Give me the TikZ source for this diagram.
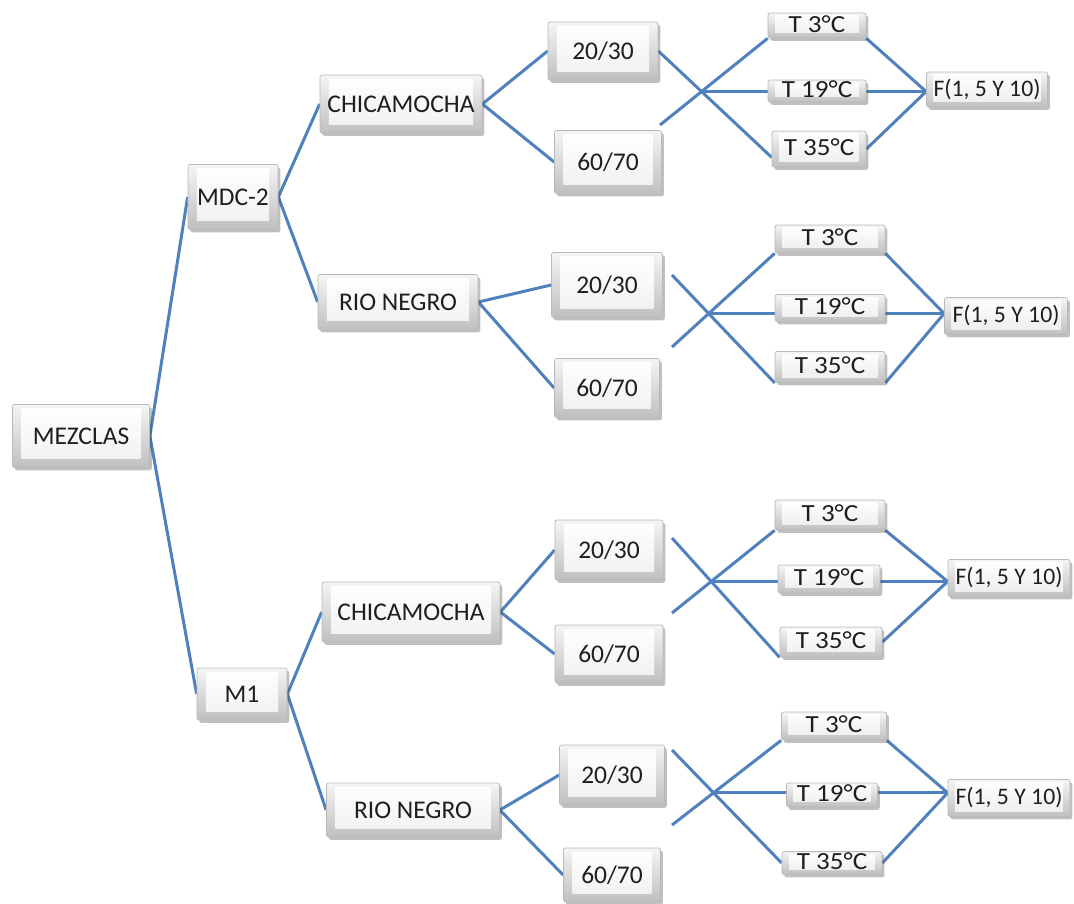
\documentclass[tikz,border=0pt]{standalone}
\usepackage{fontspec}
\setmainfont{Carlito}
\newfontfamily\tfont[FakeStretch=1.1]{Carlito}
\usetikzlibrary{shadows,intersections,backgrounds,calc}
\definecolor{lblue}{RGB}{79,129,189}
\definecolor{txt}{RGB}{30,30,30}
\tikzset{
 box/.style={draw=gray!55, line width=0.4pt, rounded corners=1.2pt,
   top color=gray!8, bottom color=gray!50, inner sep=0pt, text=txt,
   font=\fontsize{14.5}{16}\selectfont,
   drop shadow={shadow xshift=1.3pt, shadow yshift=-1.6pt, opacity=0.35, fill=black!70},
   path picture={\shade[top color=white, bottom color=gray!12, rounded corners=0pt]
     ([shift={(5pt,-2.5pt)}]path picture bounding box.north west) rectangle
     ([shift={(-5pt,5pt)}]path picture bounding box.south east);}},
 bx/.style 2 args={box, minimum width=#1*0.02cm, minimum height=#2*0.02cm},
 tb/.style 2 args={box, font=\tfont\fontsize{14}{14}\selectfont,
   minimum width=#1*0.02cm, minimum height=#2*0.02cm, text height=1.55ex, text depth=0pt,
   path picture={\shade[top color=white, bottom color=gray!15, rounded corners=0pt]
     ([shift={(4pt,-1.5pt)}]path picture bounding box.north west) rectangle
     ([shift={(-4pt,3pt)}]path picture bounding box.south east);}},
 fb/.style 2 args={tb={#1}{#2}, font=\fontsize{13.5}{14}\selectfont},
 ln/.style={draw=lblue, line width=1.7pt},
}
\begin{document}
\begin{tikzpicture}[x=0.02cm,y=-0.02cm]
\useasboundingbox (0,0) rectangle (1074,903);
% main tree
\node[bx={137}{63}] (mez) at (81,436) {MEZCLAS};
\node[bx={90}{65}] (mdc) at (233,197) {MDC-2};
\node[bx={90}{52}] (m1) at (242,694) {M1};
\node[bx={162}{58}] (ch1) at (401,104) {CHICAMOCHA};
\node[bx={160}{55}] (rn1) at (398,302) {RIO NEGRO};
\node[bx={178}{60}] (ch2) at (411,612) {CHICAMOCHA};
\node[bx={173}{54}] (rn2) at (413,810) {RIO NEGRO};
\node[bx={110}{58}] (a1) at (603,51) {20/30};
\node[bx={107}{63}] (b1) at (608,162) {60/70};
\node[bx={111}{65}] (a2) at (607,285) {20/30};
\node[bx={105}{59}] (b2) at (607,388) {60/70};
\node[bx={108}{60}] (a3) at (609,550) {20/30};
\node[bx={108}{58}] (b3) at (609,654) {60/70};
\node[bx={105}{60}] (a4) at (612,775) {20/30};
\node[bx={97}{54}] (b4) at (612,875) {60/70};
% T sections
\node[tb={98}{25}] (t3a) at (817,25.5) {T 3°C};
\node[tb={98}{22}] (t19a) at (817,91) {T 19°C};
\node[tb={94}{36}] (t35a) at (819,149) {T 35°C};
\node[fb={121}{35}] (fa) at (987,89.5) {F(1, 5 Y 10)};
\node[tb={110}{28}] (t3b) at (830,239) {T 3°C};
\node[tb={110}{27}] (t19b) at (830,308) {T 19°C};
\node[tb={110}{31}] (t35b) at (830,367) {T 35°C};
\node[fb={123}{37}] (fb) at (1006,316) {F(1, 5 Y 10)};
\node[tb={110}{30}] (t3c) at (830,515) {T 3°C};
\node[tb={102}{28}] (t19c) at (829,579) {T 19°C};
\node[tb={102}{30}] (t35c) at (831,642) {T 35°C};
\node[fb={122}{37}] (fc) at (1009,578) {F(1, 5 Y 10)};
\node[tb={105}{28}] (t3d) at (834,726) {T 3°C};
\node[tb={91}{24}] (t19d) at (832,795) {T 19°C};
\node[tb={100}{23}] (t35d) at (832,863) {T 35°C};
\node[fb={122}{37}] (fd) at (1009,798) {F(1, 5 Y 10)};
% free line ends
\coordinate (V1) at (660,125);
\coordinate (U2) at (672,275); \coordinate (V2) at (672,347);
\coordinate (U3) at (672,538); \coordinate (V3) at (672,613);
\coordinate (U4) at (672,750); \coordinate (V4) at (672,825);
% crossing points
\path[name path=pa1] (a1.east) -- (t35a.190);
\path[name path=pa2] (V1) -- (t3a.south west);
\path[name intersections={of=pa1 and pa2, by=X1}];
\path[name path=pb1] (U2) -- (t35b.south west);
\path[name path=pb2] (V2) -- (t3b.south west);
\path[name intersections={of=pb1 and pb2, by=X2}];
\path[name path=pc1] (U3) -- (t35c.south west);
\path[name path=pc2] (V3) -- (t3c.south west);
\path[name intersections={of=pc1 and pc2, by=X3}];
\path[name path=pd1] (U4) -- (t35d.west);
\path[name path=pd2] (V4) -- (t3d.south west);
\path[name intersections={of=pd1 and pd2, by=X4}];
\coordinate (P1) at (fa.west |- X1);
\coordinate (P2) at (fb.west |- X2);
\coordinate (P3) at (fc.west |- X3);
\coordinate (P4) at (fd.west |- X4);
\begin{scope}[on background layer]
\fill[white] (0,0) rectangle (1074,903);
\draw[ln] (mez.east) -- (mdc.west);
\draw[ln] (mez.east) -- (m1.west);
\draw[ln] (mdc.east) -- (ch1.west);
\draw[ln] (mdc.east) -- (rn1.west);
\draw[ln] (m1.east) -- (ch2.west);
\draw[ln] (m1.east) -- (rn2.west);
\draw[ln] (ch1.east) -- (a1.west);
\draw[ln] (ch1.east) -- (b1.west);
\draw[ln] (rn1.east) -- (a2.west);
\draw[ln] (rn1.east) -- (b2.west);
\draw[ln] (ch2.east) -- (a3.west);
\draw[ln] (ch2.east) -- (b3.west);
\draw[ln] (rn2.east) -- (a4.west);
\draw[ln] (rn2.east) -- (b4.west);
% section 1
\draw[ln] (a1.east) -- (t35a.190);
\draw[ln] (V1) -- (t3a.south west);
\draw[ln] (X1) -- (t19a.west |- X1);
\draw[ln] (t19a.east |- X1) -- (P1);
\draw[ln] (t3a.south east) -- (P1);
\draw[ln] (t35a.east) -- (P1);
% section 2
\draw[ln] (U2) -- (t35b.south west);
\draw[ln] (V2) -- (t3b.south west);
\draw[ln] (X2) -- (t19b.west |- X2);
\draw[ln] (t19b.east |- X2) -- (P2);
\draw[ln] (t3b.south east) -- (P2);
\draw[ln] (t35b.south east) -- (P2);
% section 3
\draw[ln] (U3) -- (t35c.south west);
\draw[ln] (V3) -- (t3c.south west);
\draw[ln] (X3) -- (t19c.west |- X3);
\draw[ln] (t19c.east |- X3) -- (P3);
\draw[ln] (t3c.south east) -- (P3);
\draw[ln] (t35c.east) -- (P3);
% section 4
\draw[ln] (U4) -- (t35d.west);
\draw[ln] (V4) -- (t3d.south west);
\draw[ln] (X4) -- (t19d.west |- X4);
\draw[ln] (t19d.east |- X4) -- (P4);
\draw[ln] (t3d.south east) -- (P4);
\draw[ln] (t35d.east) -- (P4);
\end{scope}
\end{tikzpicture}
\end{document}
